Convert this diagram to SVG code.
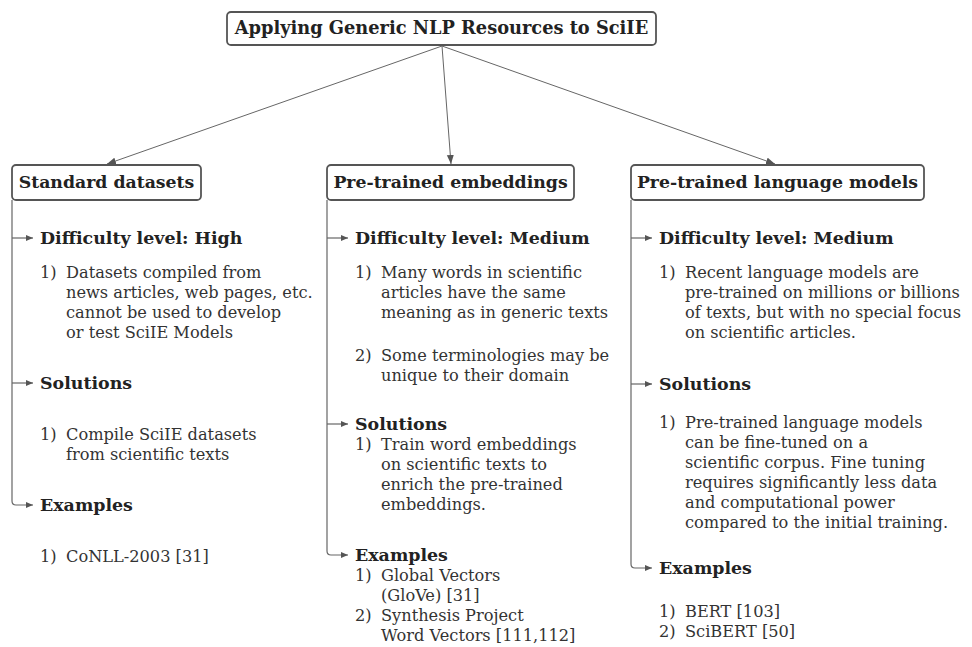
<svg xmlns="http://www.w3.org/2000/svg" width="972" height="647" viewBox="0 0 972 647">
  <defs>
    <marker id="head" markerUnits="userSpaceOnUse" markerWidth="10" markerHeight="8" refX="9" refY="3.5" orient="auto">
      <path d="M0,0 L9,3.5 L0,7 z" fill="#555"/>
    </marker>
    <marker id="tick" markerUnits="userSpaceOnUse" markerWidth="8" markerHeight="7" refX="7" refY="3" orient="auto">
      <path d="M0,0 L7,3 L0,6 z" fill="#555"/>
    </marker>
  </defs>
  <style>
    .box { fill: #fff; stroke: #555; stroke-width: 1.8; }
    .title { font-family: "DejaVu Serif", "Liberation Serif", serif; font-weight: bold; font-size: 17.3px; fill: #222; text-anchor: middle; }
    .root-title { font-size: 17.8px; }
    .head { font-family: "DejaVu Serif", "Liberation Serif", serif; font-weight: bold; font-size: 17.4px; fill: #222; }
    .body { font-family: "DejaVu Serif", "Liberation Serif", serif; font-size: 16.2px; fill: #333; }
    .edge { fill: none; stroke: #666; stroke-width: 1; }
    .trunk { fill: none; stroke: #666; stroke-width: 1.2; }
  </style>
  <rect width="972" height="647" fill="#fff"/>

  <!-- connectors -->
  <g id="connectors">
    <line class="edge" x1="442" y1="46" x2="107" y2="164" marker-end="url(#head)"/>
    <line class="edge" x1="442" y1="46" x2="451" y2="164" marker-end="url(#head)"/>
    <line class="edge" x1="442" y1="46" x2="775" y2="164" marker-end="url(#head)"/>

    <!-- left column trunk -->
    <path class="trunk" d="M12,200 V501 Q12,505 16,505 H33" marker-end="url(#tick)"/>
    <path class="trunk" d="M12,238 H33" marker-end="url(#tick)"/>
    <path class="trunk" d="M12,383 H33" marker-end="url(#tick)"/>

    <!-- middle column trunk -->
    <path class="trunk" d="M327,200 V551 Q327,555 331,555 H348" marker-end="url(#tick)"/>
    <path class="trunk" d="M327,238 H348" marker-end="url(#tick)"/>
    <path class="trunk" d="M327,424 H348" marker-end="url(#tick)"/>

    <!-- right column trunk -->
    <path class="trunk" d="M631,200 V564 Q631,568 635,568 H652" marker-end="url(#tick)"/>
    <path class="trunk" d="M631,238 H652" marker-end="url(#tick)"/>
    <path class="trunk" d="M631,384 H652" marker-end="url(#tick)"/>
  </g>

  <!-- root -->
  <g id="root">
    <rect class="box" x="227" y="12" width="429" height="33" rx="4"/>
    <text class="title root-title" x="441.5" y="34">Applying Generic NLP Resources to SciIE</text>
  </g>

  <!-- standard datasets -->
  <g id="standard-datasets">
    <rect class="box" x="12" y="165" width="189" height="35" rx="4"/>
    <text class="title" x="106.5" y="188">Standard datasets</text>
    <text class="head" x="40" y="244">Difficulty level: High</text>
    <text class="body"><tspan x="40" y="278">1)</tspan><tspan x="66" y="278">Datasets compiled from</tspan><tspan x="66" y="298">news articles, web pages, etc.</tspan><tspan x="66" y="318">cannot be used to develop</tspan><tspan x="66" y="338">or test SciIE Models</tspan></text>
    <text class="head" x="40" y="389">Solutions</text>
    <text class="body"><tspan x="40" y="440">1)</tspan><tspan x="66" y="440">Compile SciIE datasets</tspan><tspan x="66" y="460">from scientific texts</tspan></text>
    <text class="head" x="40" y="511">Examples</text>
    <text class="body"><tspan x="40" y="562">1)</tspan><tspan x="66" y="562">CoNLL-2003 [31]</tspan></text>
  </g>

  <!-- pre-trained embeddings -->
  <g id="pretrained-embeddings">
    <rect class="box" x="327" y="165" width="247" height="35" rx="4"/>
    <text class="title" x="450.5" y="188">Pre-trained embeddings</text>
    <text class="head" x="355" y="244">Difficulty level: Medium</text>
    <text class="body"><tspan x="355" y="278">1)</tspan><tspan x="381" y="278">Many words in scientific</tspan><tspan x="381" y="298">articles have the same</tspan><tspan x="381" y="318">meaning as in generic texts</tspan></text>
    <text class="body"><tspan x="355" y="361">2)</tspan><tspan x="381" y="361">Some terminologies may be</tspan><tspan x="381" y="381">unique to their domain</tspan></text>
    <text class="head" x="355" y="430">Solutions</text>
    <text class="body"><tspan x="355" y="450">1)</tspan><tspan x="381" y="450">Train word embeddings</tspan><tspan x="381" y="470">on scientific texts to</tspan><tspan x="381" y="490">enrich the pre-trained</tspan><tspan x="381" y="510">embeddings.</tspan></text>
    <text class="head" x="355" y="561">Examples</text>
    <text class="body"><tspan x="355" y="581">1)</tspan><tspan x="381" y="581">Global Vectors</tspan><tspan x="381" y="601">(GloVe) [31]</tspan><tspan x="355" y="621">2)</tspan><tspan x="381" y="621">Synthesis Project</tspan><tspan x="381" y="641">Word Vectors [111,112]</tspan></text>
  </g>

  <!-- pre-trained language models -->
  <g id="pretrained-language-models">
    <rect class="box" x="631" y="165" width="293" height="35" rx="4"/>
    <text class="title" x="777.5" y="188">Pre-trained language models</text>
    <text class="head" x="659" y="244">Difficulty level: Medium</text>
    <text class="body"><tspan x="659" y="278">1)</tspan><tspan x="685" y="278">Recent language models are</tspan><tspan x="685" y="298">pre-trained on millions or billions</tspan><tspan x="685" y="318">of texts, but with no special focus</tspan><tspan x="685" y="338">on scientific articles.</tspan></text>
    <text class="head" x="659" y="390">Solutions</text>
    <text class="body"><tspan x="659" y="428">1)</tspan><tspan x="685" y="428">Pre-trained language models</tspan><tspan x="685" y="448">can be fine-tuned on a</tspan><tspan x="685" y="468">scientific corpus. Fine tuning</tspan><tspan x="685" y="488">requires significantly less data</tspan><tspan x="685" y="508">and computational power</tspan><tspan x="685" y="528">compared to the initial training.</tspan></text>
    <text class="head" x="659" y="574">Examples</text>
    <text class="body"><tspan x="659" y="617">1)</tspan><tspan x="685" y="617">BERT [103]</tspan><tspan x="659" y="637">2)</tspan><tspan x="685" y="637">SciBERT [50]</tspan></text>
  </g>
</svg>
